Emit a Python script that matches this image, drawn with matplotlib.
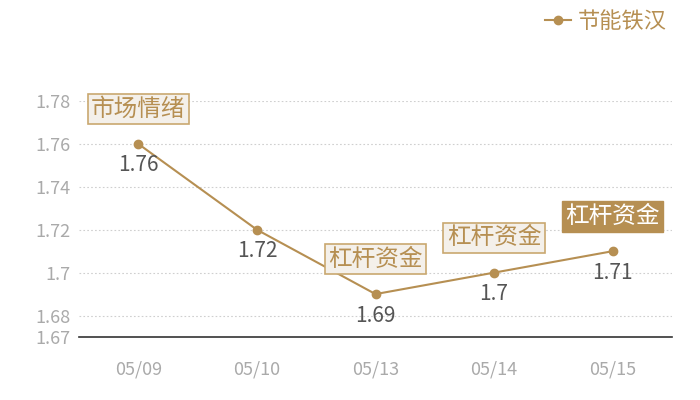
import matplotlib
matplotlib.use("Agg")
import matplotlib.pyplot as plt

plt.rcParams['font.family'] = ['Noto Sans CJK SC', 'DejaVu Sans']

dates = ["05/09", "05/10", "05/13", "05/14", "05/15"]
values = [1.76, 1.72, 1.69, 1.70, 1.71]
series_name = "节能铁汉"
yticks = [1.67, 1.68, 1.70, 1.72, 1.74, 1.76, 1.78]
ytick_labels = ["1.67", "1.68", "1.7", "1.72", "1.74", "1.76", "1.78"]
tags = ["市场情绪", None, "杠杆资金", "杠杆资金", "杠杆资金"]
tag_filled = [False, False, False, False, True]
value_labels = ["1.76", "1.72", "1.69", "1.7", "1.71"]

gold = "#b68f52"
box_fill = "#f4f0ea"
box_edge = "#c9a870"

fig = plt.figure(figsize=(7, 4), dpi=100)
ax = fig.add_axes([0.1129, 0.1575, 0.96 - 0.1129, 0.7475 - 0.1575])

x = list(range(len(dates)))
ax.plot(x, values, color=gold, lw=1.5, marker="o", ms=6, label=series_name, zorder=3)

ax.set_xlim(-0.5, len(dates) - 0.5)
ax.set_ylim(1.67, 1.78)
ax.set_yticks(yticks)
ax.set_yticklabels(ytick_labels)
ax.set_xticks(x)
ax.set_xticklabels(dates)
for t in yticks[1:]:
    ax.axhline(t, color="#cfcfcf", lw=0.8, ls=(0, (1.5, 2)), zorder=1)

for s in ["top", "right", "left"]:
    ax.spines[s].set_visible(False)
ax.spines["bottom"].set_color("#333333")
ax.spines["bottom"].set_linewidth(1.2)
ax.tick_params(axis="both", length=0, colors="#aaaaaa", labelsize=13)
ax.tick_params(axis="x", pad=17)
ax.tick_params(axis="y", pad=6)

for xi, v, lab in zip(x, values, value_labels):
    ax.annotate(lab, (xi, v), xytext=(0, -15.5), textcoords="offset points",
                ha="center", va="center", fontsize=15, color="#555555", zorder=4)

for xi, v, tag, filled in zip(x, values, tags, tag_filled):
    if tag is None:
        continue
    if filled:
        bbox = dict(boxstyle="square,pad=0.15", fc=gold, ec=gold, lw=1)
        col = "white"
    else:
        bbox = dict(boxstyle="square,pad=0.15", fc=box_fill, ec=box_edge, lw=1.2)
        col = gold
    ax.annotate(tag, (xi, v), xytext=(0, 25), textcoords="offset points",
                ha="center", va="center", fontsize=17, color=col, bbox=bbox, zorder=5)

leg = fig.legend(loc="upper right", bbox_to_anchor=(0.975, 1.015), frameon=False,
                 fontsize=16, handlelength=1.2, handletextpad=0.3, borderaxespad=0.3)
for t in leg.get_texts():
    t.set_color(gold)

fig.savefig("out.png", dpi=100)
